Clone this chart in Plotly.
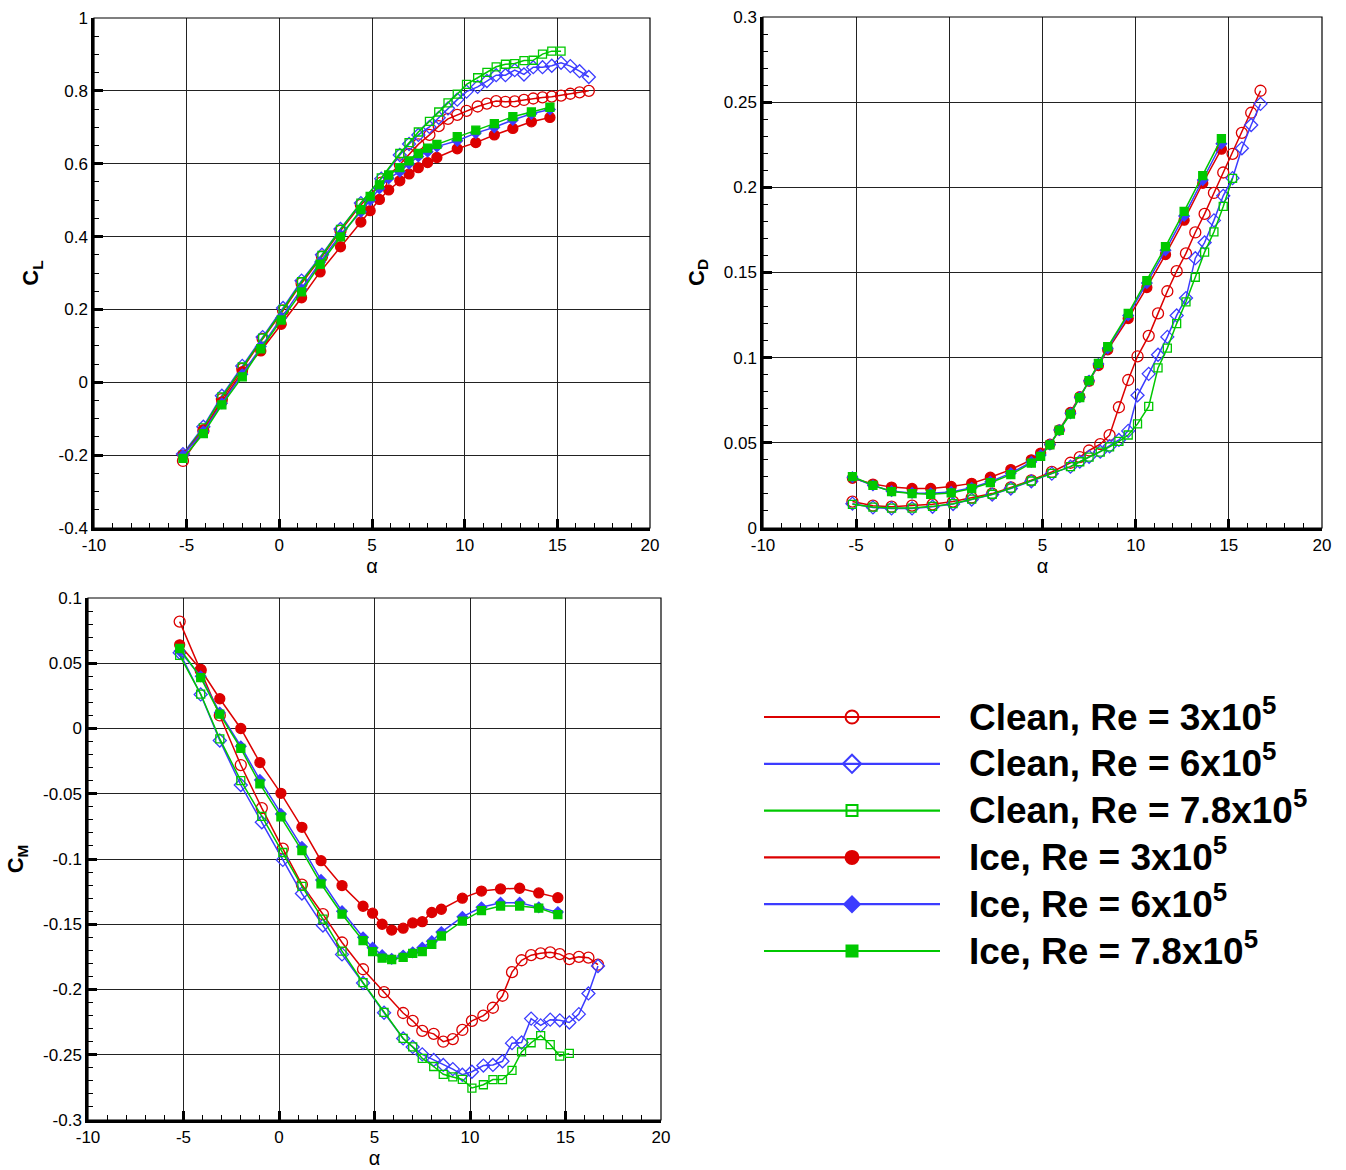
import plotly.graph_objects as go

# ---------------- data ----------------
alpha_clean_3e5 = [-5.2, -4.1, -3.1, -2.0, -0.9, 0.2, 1.2, 2.3, 3.3, 4.4, 5.5, 6.5, 7.0, 7.5, 8.1, 8.6,
                   9.1, 9.6, 10.1, 10.7, 11.2, 11.7, 12.2, 12.7, 13.2, 13.7, 14.2, 14.7, 15.2, 15.7, 16.2, 16.7]
alpha_clean_6e5 = [-5.2, -4.1, -3.1, -2.0, -0.9, 0.2, 1.2, 2.3, 3.3, 4.4, 5.5, 6.5, 7.0, 7.5, 8.1, 8.6,
                   9.1, 9.6, 10.1, 10.7, 11.2, 11.7, 12.2, 12.7, 13.2, 13.7, 14.2, 14.7, 15.2, 15.7, 16.2, 16.7]
alpha_clean_78e5 = [-5.2, -4.1, -3.1, -2.0, -0.9, 0.2, 1.2, 2.3, 3.3, 4.4, 5.5, 6.5, 7.0, 7.5, 8.1, 8.6,
                    9.1, 9.6, 10.1, 10.7, 11.2, 11.7, 12.2, 12.7, 13.2, 13.7, 14.2, 14.7, 15.2]
alpha_ice = [-5.2, -4.1, -3.1, -2.0, -1.0, 0.1, 1.2, 2.2, 3.3, 4.4, 4.9, 5.4, 5.9, 6.5, 7.0, 7.5,
             8.0, 8.5, 9.6, 10.6, 11.6, 12.6, 13.6, 14.6]

cl_clean_3e5 = [-0.216, -0.133, -0.046, 0.037, 0.119, 0.197, 0.272, 0.345, 0.416, 0.487, 0.548, 0.598,
                0.626, 0.653, 0.679, 0.703, 0.723, 0.734, 0.745, 0.757, 0.765, 0.772, 0.770, 0.771,
                0.775, 0.779, 0.782, 0.784, 0.787, 0.792, 0.796, 0.800]
cl_clean_6e5 = [-0.197, -0.122, -0.037, 0.045, 0.124, 0.204, 0.279, 0.350, 0.421, 0.492, 0.559, 0.624,
                0.654, 0.679, 0.701, 0.726, 0.752, 0.776, 0.798, 0.811, 0.827, 0.843, 0.843, 0.857,
                0.845, 0.865, 0.865, 0.869, 0.877, 0.868, 0.854, 0.838]
cl_clean_78e5 = [-0.200, -0.125, -0.040, 0.042, 0.121, 0.200, 0.276, 0.348, 0.420, 0.492, 0.561, 0.628,
                 0.658, 0.687, 0.716, 0.742, 0.767, 0.791, 0.818, 0.836, 0.851, 0.866, 0.873, 0.875,
                 0.883, 0.884, 0.901, 0.909, 0.909]
cl_ice_3e5 = [-0.200, -0.131, -0.054, 0.029, 0.086, 0.159, 0.232, 0.303, 0.372, 0.440, 0.471, 0.502,
              0.528, 0.553, 0.572, 0.589, 0.603, 0.617, 0.641, 0.658, 0.679, 0.697, 0.715, 0.727]
cl_ice_6e5 = [-0.200, -0.135, -0.058, 0.022, 0.098, 0.177, 0.255, 0.330, 0.405, 0.468, 0.500, 0.532,
              0.560, 0.578, 0.600, 0.620, 0.633, 0.647, 0.663, 0.684, 0.700, 0.720, 0.737, 0.749]
cl_ice_78e5 = [-0.209, -0.141, -0.062, 0.015, 0.092, 0.171, 0.248, 0.324, 0.399, 0.474, 0.510, 0.542,
               0.569, 0.589, 0.608, 0.628, 0.643, 0.653, 0.674, 0.692, 0.710, 0.729, 0.742, 0.755]

cd_clean_3e5 = [0.0155, 0.0131, 0.0125, 0.0131, 0.0139, 0.0155, 0.0179, 0.0202, 0.0238, 0.0280, 0.0329,
                0.0383, 0.0416, 0.0455, 0.0492, 0.0545, 0.0709, 0.0869, 0.1008, 0.1128, 0.1260, 0.1390,
                0.1508, 0.1612, 0.1735, 0.1844, 0.1967, 0.2087, 0.2197, 0.2320, 0.2438, 0.2567]
cd_clean_6e5 = [0.0143, 0.0121, 0.0115, 0.0115, 0.0125, 0.0141, 0.0167, 0.0196, 0.0232, 0.0274, 0.0319,
                0.0360, 0.0390, 0.0418, 0.0448, 0.0480, 0.0517, 0.0570, 0.0779, 0.0905, 0.1017, 0.1122,
                0.1248, 0.1350, 0.1584, 0.1676, 0.1806, 0.1950, 0.2054, 0.2229, 0.2366, 0.2490]
cd_clean_78e5 = [0.0139, 0.0123, 0.0117, 0.0117, 0.0127, 0.0143, 0.0169, 0.0198, 0.0234, 0.0276, 0.0321,
                 0.0360, 0.0389, 0.0416, 0.0446, 0.0476, 0.0508, 0.0546, 0.0611, 0.0714, 0.0940, 0.1056,
                 0.1200, 0.1328, 0.1472, 0.1620, 0.1738, 0.1888, 0.2053]
cd_ice_3e5 = [0.0292, 0.0258, 0.0240, 0.0232, 0.0232, 0.0244, 0.0262, 0.0298, 0.0343, 0.0400, 0.0440,
              0.0492, 0.0576, 0.0678, 0.0771, 0.0862, 0.0954, 0.1046, 0.1230, 0.1412, 0.1605, 0.1807,
              0.2024, 0.2224]
cd_ice_6e5 = [0.0298, 0.0250, 0.0216, 0.0206, 0.0204, 0.0212, 0.0236, 0.0272, 0.0322, 0.0388, 0.0428,
              0.0490, 0.0575, 0.0673, 0.0768, 0.0865, 0.0963, 0.1055, 0.1248, 0.1438, 0.1630, 0.1832,
              0.2043, 0.2256]
cd_ice_78e5 = [0.0302, 0.0250, 0.0214, 0.0202, 0.0198, 0.0206, 0.0232, 0.0266, 0.0313, 0.0381, 0.0421,
               0.0488, 0.0574, 0.0669, 0.0765, 0.0865, 0.0966, 0.1064, 0.1260, 0.1452, 0.1652, 0.1859,
               0.2069, 0.2286]

cm_clean_3e5 = [0.0819, 0.0447, 0.0100, -0.0280, -0.0610, -0.0920, -0.1196, -0.1423, -0.1640, -0.1845,
                -0.2020, -0.2180, -0.2240, -0.2317, -0.2340, -0.2400, -0.2380, -0.2310, -0.2240, -0.2200,
                -0.2140, -0.2048, -0.1867, -0.1776, -0.1737, -0.1723, -0.1715, -0.1729, -0.1767, -0.1750,
                -0.1756, -0.1810]
cm_clean_6e5 = [0.0580, 0.0261, -0.0092, -0.0433, -0.0719, -0.1007, -0.1265, -0.1510, -0.1731, -0.1950,
                -0.2178, -0.2375, -0.2440, -0.2497, -0.2540, -0.2578, -0.2610, -0.2653, -0.2630, -0.2583,
                -0.2578, -0.2550, -0.2411, -0.2406, -0.2223, -0.2275, -0.2231, -0.2236, -0.2253, -0.2189,
                -0.2030, -0.1820]
cm_clean_78e5 = [0.0560, 0.0264, -0.0080, -0.0400, -0.0674, -0.0950, -0.1210, -0.1460, -0.1706, -0.1948,
                 -0.2175, -0.2375, -0.2440, -0.2528, -0.2590, -0.2650, -0.2670, -0.2689, -0.2755, -0.2730,
                 -0.2690, -0.2690, -0.2620, -0.2478, -0.2408, -0.2353, -0.2422, -0.2510, -0.2490]
cm_ice_3e5 = [0.0641, 0.0452, 0.0228, 0.0000, -0.0261, -0.0497, -0.0757, -0.1013, -0.1204, -0.1362,
              -0.1415, -0.1500, -0.1545, -0.1530, -0.1490, -0.1480, -0.1410, -0.1385, -0.1300, -0.1246,
              -0.1229, -0.1224, -0.1260, -0.1296]
cm_ice_6e5 = [0.0594, 0.0400, 0.0122, -0.0136, -0.0394, -0.0655, -0.0907, -0.1160, -0.1400, -0.1600,
              -0.1680, -0.1737, -0.1765, -0.1740, -0.1715, -0.1680, -0.1630, -0.1560, -0.1443, -0.1370,
              -0.1335, -0.1335, -0.1370, -0.1407]
cm_ice_78e5 = [0.0613, 0.0390, 0.0110, -0.0153, -0.0425, -0.0677, -0.0935, -0.1190, -0.1423, -0.1626,
               -0.1710, -0.1760, -0.1770, -0.1754, -0.1723, -0.1710, -0.1654, -0.1590, -0.1476, -0.1396,
               -0.1360, -0.1360, -0.1376, -0.1426]

x_ticks = [-10, -5, 0, 5, 10, 15, 20]
cl_ticks = [-0.4, -0.2, 0, 0.2, 0.4, 0.6, 0.8, 1]
cd_ticks = [0, 0.05, 0.1, 0.15, 0.2, 0.25, 0.3]
cm_ticks = [-0.3, -0.25, -0.2, -0.15, -0.1, -0.05, 0, 0.05, 0.1]

legend_labels = ["Clean, Re = 3x10<sup>5</sup>", "Clean, Re = 6x10<sup>5</sup>",
                 "Clean, Re = 7.8x10<sup>5</sup>", "Ice, Re = 3x10<sup>5</sup>",
                 "Ice, Re = 6x10<sup>5</sup>", "Ice, Re = 7.8x10<sup>5</sup>"]

# ---------------- styles ----------------
RED, BLUE, GREEN = "#dc0000", "#3c3cff", "#00c800"
W, H = 1346, 1170
FONT = "Liberation Sans, Arial, sans-serif"


def fmt(v):
    return "%g" % v


series = [
    # (alpha, cl, cd, cm, color, symbol, size, legend size)
    (alpha_clean_3e5, cl_clean_3e5, cd_clean_3e5, cm_clean_3e5, RED, "circle-open", 11, 13),
    (alpha_clean_6e5, cl_clean_6e5, cd_clean_6e5, cm_clean_6e5, BLUE, "diamond-open", 10, 14),
    (alpha_clean_78e5, cl_clean_78e5, cd_clean_78e5, cm_clean_78e5, GREEN, "square-open", 8, 11),
    (alpha_ice, cl_ice_3e5, cd_ice_3e5, cm_ice_3e5, RED, "circle", 10, 13),
    (alpha_ice, cl_ice_6e5, cd_ice_6e5, cm_ice_6e5, BLUE, "diamond", 8, 12),
    (alpha_ice, cl_ice_78e5, cd_ice_78e5, cm_ice_78e5, GREEN, "square", 8, 11),
]

fig = go.Figure()

for (a, cl, cd, cm, col, sym, sz, lsz) in series:
    for yv, xa, ya in ((cl, "x", "y"), (cd, "x2", "y2"), (cm, "x3", "y3")):
        fig.add_trace(go.Scatter(
            x=a, y=yv, xaxis=xa, yaxis=ya, mode="lines+markers",
            line=dict(color=col, width=1.5),
            marker=dict(symbol=sym, size=sz, color=col, line=dict(color=col, width=1.3)),
            showlegend=False, hoverinfo="skip"))


def px_dom_x(x0, x1):
    return [x0 / W, x1 / W]


def px_dom_y(top, bottom):
    return [1 - bottom / H, 1 - top / H]


def xaxis(dom, anchor):
    return dict(domain=dom, anchor=anchor, range=[-10, 20], automargin=False,
                tickmode="array", tickvals=x_ticks, ticktext=[fmt(v) for v in x_ticks],
                showgrid=True, gridcolor="#222222", gridwidth=1, zeroline=False,
                showline=True, linecolor="black", linewidth=2.5,
                ticks="inside", ticklen=9, tickwidth=2.5, tickcolor="black",
                minor=dict(ticks="inside", ticklen=5, tickwidth=1, tickcolor="black",
                           tickmode="linear", tick0=0, dtick=1, showgrid=False),
                tickfont=dict(family=FONT, size=17, color="black"),
                title=dict(text="α", font=dict(family=FONT, size=20, color="black"), standoff=2))


def yaxis(dom, anchor, rng, ticks, mdt, title):
    return dict(domain=dom, anchor=anchor, range=rng, automargin=False,
                tickmode="array", tickvals=ticks, ticktext=[fmt(v) for v in ticks],
                showgrid=True, gridcolor="#222222", gridwidth=1, zeroline=False,
                showline=True, linecolor="black", linewidth=2.5,
                ticks="inside", ticklen=9, tickwidth=2.5, tickcolor="black",
                minor=dict(ticks="inside", ticklen=5, tickwidth=1, tickcolor="black",
                           tickmode="linear", tick0=0, dtick=mdt, showgrid=False),
                tickfont=dict(family=FONT, size=17, color="black"),
                title=dict(text=title, font=dict(family=FONT, size=22, color="black"), standoff=14))


layout = dict(
    width=W, height=H, margin=dict(l=0, r=0, t=0, b=0, autoexpand=False),
    paper_bgcolor="white", plot_bgcolor="white", showlegend=False,
    xaxis=xaxis(px_dom_x(94, 650), "y"),
    yaxis=yaxis(px_dom_y(18, 528), "x", [-0.4, 1.0], cl_ticks, 0.05, "<b>C<sub>L</sub></b>"),
    xaxis2=xaxis(px_dom_x(763, 1322), "y2"),
    yaxis2=yaxis(px_dom_y(17, 528), "x2", [0, 0.3], cd_ticks, 0.01, "<b>C<sub>D</sub></b>"),
    xaxis3=xaxis(px_dom_x(88, 661), "y3"),
    yaxis3=yaxis(px_dom_y(598, 1120), "x3", [-0.3, 0.1], cm_ticks, 0.01, "<b>C<sub>M</sub></b>"),
)
fig.update_layout(**layout)

# frame around each plot
for xr, yr in (("x", "y"), ("x2", "y2"), ("x3", "y3")):
    fig.add_shape(type="rect", xref=xr + " domain", yref=yr + " domain", x0=0, x1=1, y0=0, y1=1,
                  line=dict(color="black", width=1.2), fillcolor="rgba(0,0,0,0)", layer="above")

# ---------------- custom legend ----------------
LEG_X0, LEG_X1 = 700, W
LEG_TOP, LEG_BOT = 660, 1000
fig.update_layout(
    xaxis4=dict(domain=px_dom_x(LEG_X0, LEG_X1), anchor="y4", range=[LEG_X0, LEG_X1],
                visible=False, automargin=False),
    yaxis4=dict(domain=px_dom_y(LEG_TOP, LEG_BOT), anchor="x4", range=[LEG_BOT, LEG_TOP],
                visible=False, automargin=False),
)
row0, row_step = 717, 46.8
line_x = [764, 940]
mark_x = 852
text_x = 967
for i, (lab, s) in enumerate(zip(legend_labels, series)):
    col, sym, lsz = s[4], s[5], s[7]
    ry = row0 + i * row_step
    fig.add_trace(go.Scatter(x=line_x, y=[ry, ry], xaxis="x4", yaxis="y4", mode="lines",
                             line=dict(color=col, width=2.2), showlegend=False, hoverinfo="skip"))
    fig.add_trace(go.Scatter(x=[mark_x], y=[ry], xaxis="x4", yaxis="y4", mode="markers",
                             marker=dict(symbol=sym, size=lsz, color=col, line=dict(color=col, width=2)),
                             showlegend=False, hoverinfo="skip"))
    fig.add_annotation(x=text_x / W, y=1 - (ry - 3) / H, xref="paper", yref="paper",
                       xanchor="left", yanchor="middle", showarrow=False,
                       text="<b>" + lab + "</b>",
                       font=dict(family=FONT, size=37, color="black"))

fig.write_html("out.html")
